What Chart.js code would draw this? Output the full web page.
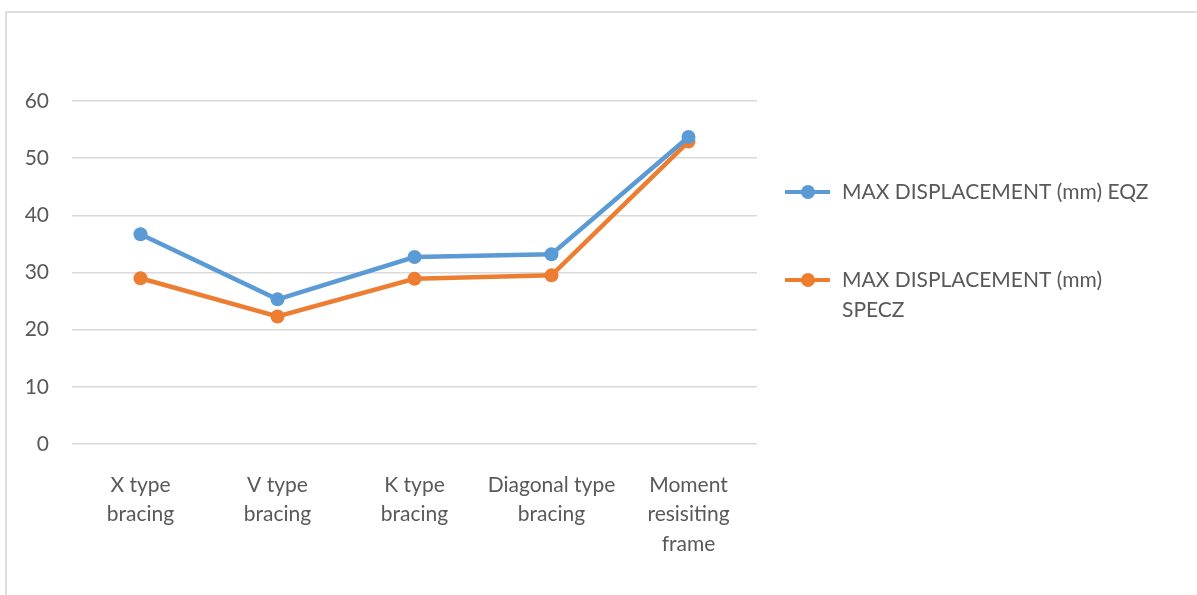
<!DOCTYPE html>
<html>
<head>
<meta charset="utf-8">
<script src="https://cdn.jsdelivr.net/npm/chart.js@4"></script>
<style>
  html, body { margin: 0; padding: 0; background: #fff; overflow: hidden; }
  #wrap { position: relative; width: 1197px; height: 595px; overflow: hidden; }
  #frame { position: absolute; left: 5px; top: 11px; width: 1220px; height: 620px; border: 2px solid #dedede; box-sizing: border-box; }
  canvas { position: absolute; left: 0; top: 0; }
</style>
</head>
<body>
<div id="wrap">
  <div id="frame"></div>
  <canvas id="chart" width="1197" height="595"></canvas>
</div>
<script>
// ==================== Data ====================
const categories = [
  ["X type", "bracing"],
  ["V type", "bracing"],
  ["K type", "bracing"],
  ["Diagonal type", "bracing"],
  ["Moment", "resisiting", "frame"]
];
const eqzValues = [36.7, 25.3, 32.7, 33.2, 53.7];
const speczValues = [29.0, 22.3, 28.9, 29.5, 52.9];
const seriesNames = [["MAX DISPLACEMENT (mm) EQZ"], ["MAX DISPLACEMENT (mm)", "SPECZ"]];

const blue = "#5B9BD5";
const orange = "#ED7D31";
const textColor = "#595959";
const fontFamily = "Lato, 'Open Sans', sans-serif";
const fontSize = 21;

// ==================== Legend plugin (wrapped labels like Excel) ====================
const sideLegend = {
  id: "sideLegend",
  afterDraw(chart) {
    const ctx = chart.ctx;
    const rows = [192, 280];
    ctx.save();
    chart.data.datasets.forEach((ds, i) => {
      const y = rows[i];
      ctx.strokeStyle = ds.borderColor;
      ctx.lineWidth = 4;
      ctx.beginPath();
      ctx.moveTo(785, y);
      ctx.lineTo(830, y);
      ctx.stroke();
      ctx.fillStyle = ds.borderColor;
      ctx.beginPath();
      ctx.arc(808, y, 7, 0, Math.PI * 2);
      ctx.fill();
      ctx.fillStyle = textColor;
      ctx.font = fontSize + "px " + fontFamily;
      ctx.textBaseline = "middle";
      ctx.textAlign = "left";
      seriesNames[i].forEach((line, k) => ctx.fillText(line, 842, y + k * 30));
    });
    ctx.restore();
  }
};

// ==================== Chart ====================
new Chart(document.getElementById("chart").getContext("2d"), {
  type: "line",
  data: {
    labels: categories,
    datasets: [
      {
        label: seriesNames[0].join(" "),
        data: eqzValues,
        borderColor: blue,
        backgroundColor: blue,
        borderWidth: 4.5,
        pointRadius: 7,
        pointBackgroundColor: blue,
        pointBorderWidth: 0,
        tension: 0
      },
      {
        label: seriesNames[1].join(" "),
        data: speczValues,
        borderColor: orange,
        backgroundColor: orange,
        borderWidth: 4.5,
        pointRadius: 7,
        pointBackgroundColor: orange,
        pointBorderWidth: 0,
        tension: 0
      }
    ]
  },
  options: {
    responsive: false,
    animation: false,
    layout: { padding: { left: 0, right: 440, top: 101, bottom: 0 } },
    plugins: { legend: { display: false }, tooltip: { enabled: false } },
    scales: {
      x: {
        offset: true,
        grid: { display: false, drawTicks: false },
        border: { display: false },
        ticks: {
          color: textColor,
          font: { family: fontFamily, size: fontSize, lineHeight: 1.42 },
          padding: 26,
          maxRotation: 0,
          autoSkip: false
        },
        afterFit(scale) { scale.height = 151; }
      },
      y: {
        min: 0,
        max: 60,
        grid: { color: "#d9d9d9", lineWidth: 1.5, drawTicks: false },
        border: { display: false },
        ticks: {
          stepSize: 10,
          color: textColor,
          font: { family: fontFamily, size: fontSize },
          padding: 23
        },
        afterFit(scale) { scale.width = 72; }
      }
    }
  },
  plugins: [sideLegend]
});
</script>
</body>
</html>
